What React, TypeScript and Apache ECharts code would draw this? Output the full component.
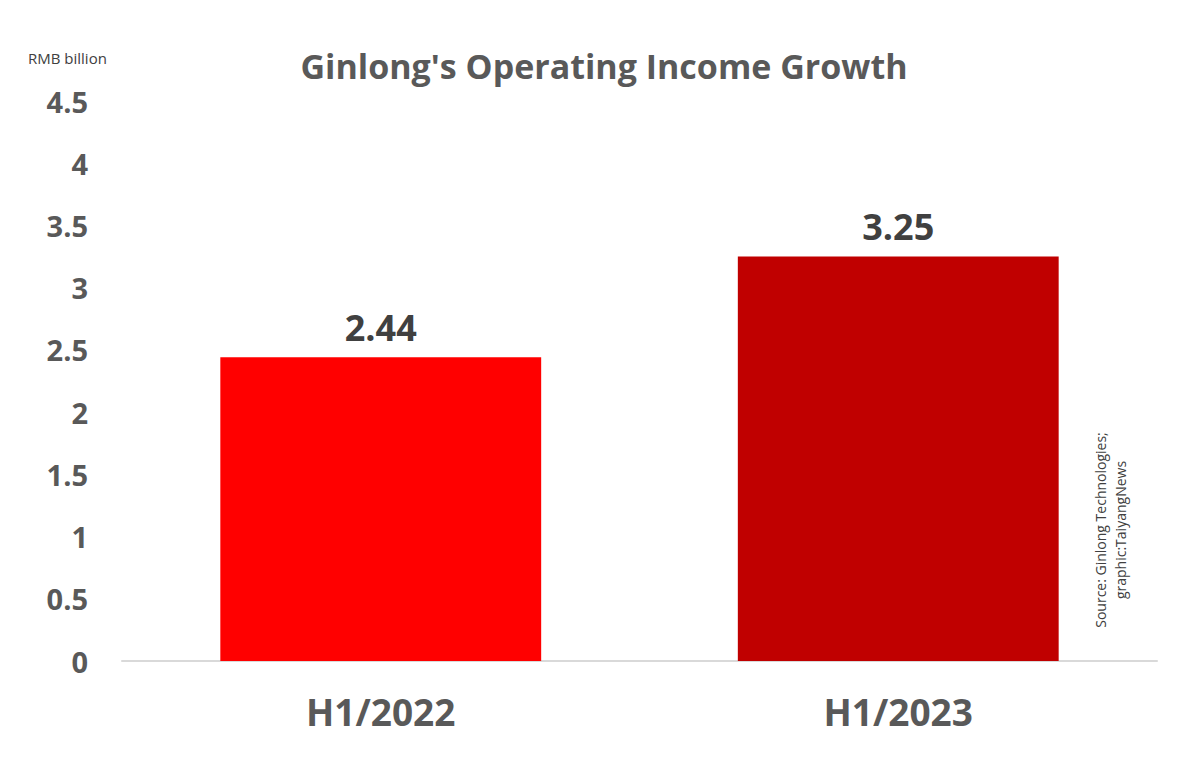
import React, { useEffect, useRef } from "react";
import * as echarts from "echarts";

const categories = ["H1/2022", "H1/2023"];
const values = [2.44, 3.25];
const barColors = ["#FF0000", "#C00000"];
const titleText = "Ginlong's Operating Income Growth";
const unitText = "RMB billion";
const sourceLines = ["Source: Ginlong Technologies;", "graphic:TaiyangNews"];

const FONT = "'Open Sans', 'Noto Sans', sans-serif";

export default function App() {
  const ref = useRef<HTMLDivElement>(null);
  useEffect(() => {
    if (!ref.current) return;
    const chart = echarts.init(ref.current, undefined, { renderer: "svg" });
    chart.setOption({
      animation: false,
      backgroundColor: "#ffffff",
      title: {
        text: titleText,
        left: 599,
        textAlign: "center",
        top: 44,
        textStyle: { fontFamily: FONT, fontSize: 34, fontWeight: "bold", color: "#595959" },
      },
      grid: { left: 122, right: 43, top: 101, bottom: 107, containLabel: false },
      xAxis: {
        type: "category",
        data: categories,
        axisLine: { show: true, lineStyle: { color: "#D9D9D9", width: 2 } },
        axisTick: { show: false },
        axisLabel: {
          margin: 32,
          fontFamily: FONT,
          fontSize: 37,
          fontWeight: "bold",
          color: "#595959",
        },
      },
      yAxis: {
        type: "value",
        min: 0,
        max: 4.5,
        interval: 0.5,
        splitLine: { show: false },
        axisLine: { show: false },
        axisTick: { show: false },
        axisLabel: {
          margin: 34,
          fontFamily: FONT,
          fontSize: 29,
          fontWeight: "bold",
          color: "#595959",
        },
      },
      graphic: [
        {
          type: "text",
          left: 28,
          top: 50,
          style: { text: unitText, fontFamily: FONT, fontSize: 15, fill: "#404040" },
        },
        {
          type: "text",
          x: 1110,
          y: 530,
          rotation: Math.PI / 2,
          style: {
            text: sourceLines.join("\n"),
            fontFamily: FONT,
            fontSize: 14,
            lineHeight: 20,
            fill: "#404040",
            align: "center",
            verticalAlign: "middle",
          },
        },
      ],
      series: [
        {
          type: "bar",
          barWidth: "62%",
          data: values.map((v, i) => ({ value: v, itemStyle: { color: barColors[i] } })),
          label: {
            show: true,
            position: "top",
            distance: 12,
            fontFamily: FONT,
            fontSize: 36,
            fontWeight: "bold",
            color: "#404040",
            formatter: (p: any) => p.value.toFixed(2),
          },
        },
      ],
    });
    return () => chart.dispose();
  }, []);
  return (
    <div
      ref={ref}
      style={{ position: "fixed", left: 0, top: 0, width: 1200, height: 768 }}
    />
  );
}
